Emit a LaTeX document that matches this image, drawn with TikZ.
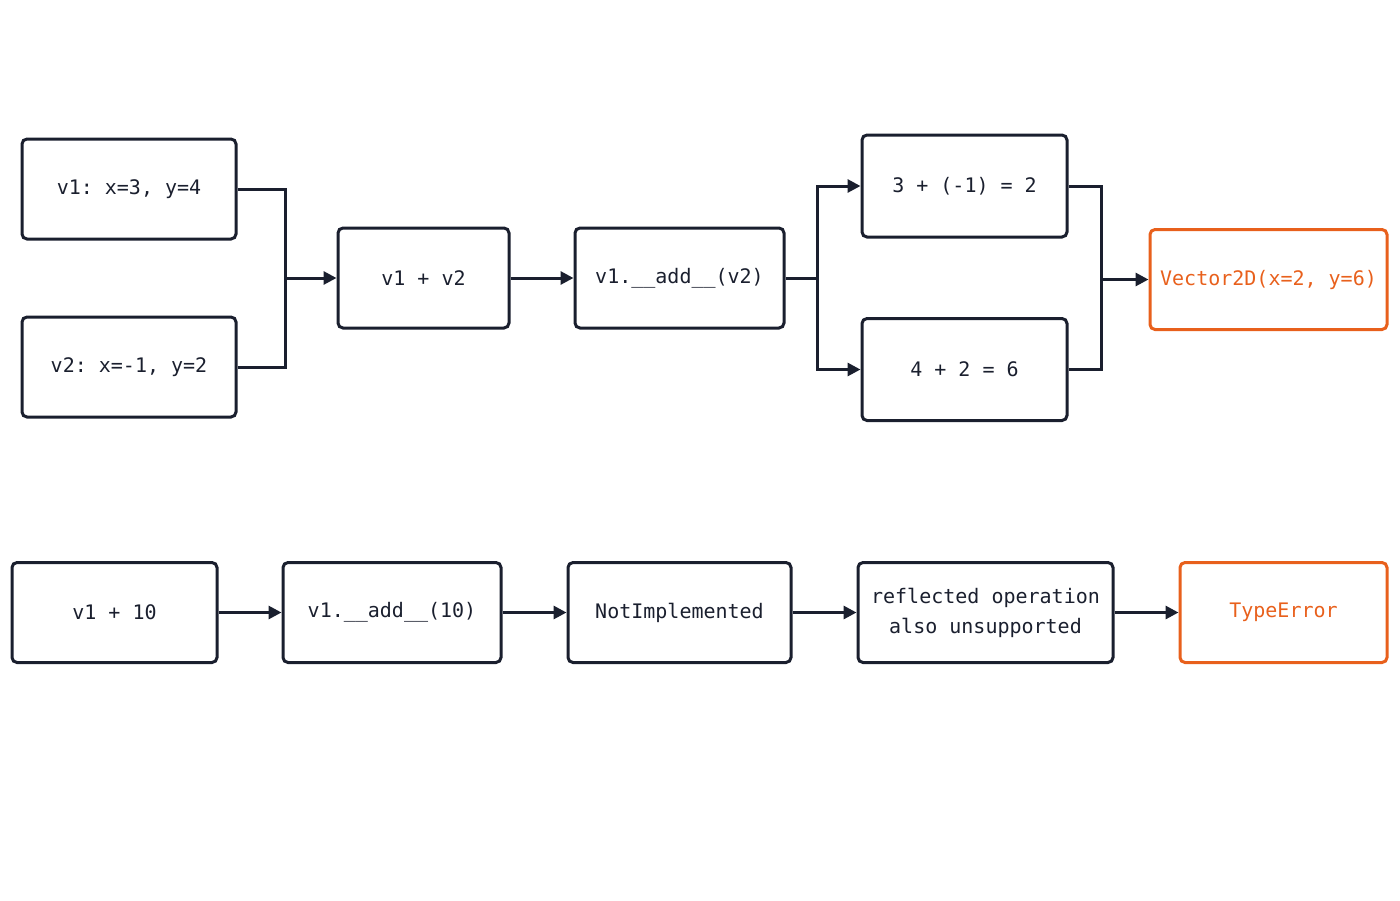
\documentclass[tikz,border=0pt]{standalone}
\usepackage{fontspec}
\setmonofont{DejaVu Sans Mono}
\usetikzlibrary{arrows.meta}
\definecolor{inkcol}{HTML}{1A1F2E}
\definecolor{hotcol}{HTML}{E8601C}
\tikzset{
  box/.style={draw=inkcol,line width=3pt,rounded corners=5pt,minimum height=100pt,
    align=center,text=inkcol,font=\fontsize{20}{30}\selectfont\ttfamily},
  outbox/.style={box,draw=hotcol,text=hotcol},
  flow/.style={draw=inkcol,line width=3pt,-{Triangle[length=13pt,width=13pt]}},
  wire/.style={draw=inkcol,line width=3pt}
}
\begin{document}
\begin{tikzpicture}[x=1pt,y=-1pt]
  \useasboundingbox (0,0) rectangle (1400,900);
%%
  % Nodes: first row
  \node[box,minimum width=214pt] (vone) at (129,189) {v1: x=3, y=4};
  \node[box,minimum width=214pt] (vtwo) at (129,367) {v2: x=-1, y=2};
  \node[box,minimum width=171pt] (sum) at (423.5,278) {v1 + v2};
  \node[box,minimum width=209pt] (add) at (679.5,278) {v1.\_\_add\_\_(v2)};
  \node[box,minimum width=205pt,minimum height=102pt] (xsum) at (964.5,186) {3 + (-1) = 2};
  \node[box,minimum width=205pt,minimum height=102pt] (ysum) at (964.5,369.5) {4 + 2 = 6};
  \node[outbox,minimum width=237pt] (res) at (1268.5,279.5) {Vector2D(x=2, y=6)};
  % Nodes: second row
  \node[box,minimum width=205pt] (ten) at (114.5,612.5) {v1 + 10};
  \node[box,minimum width=218pt] (addten) at (392,612.5) {v1.\_\_add\_\_(10)};
  \node[box,minimum width=223pt] (notimp) at (679.5,612.5) {NotImplemented};
  \node[box,minimum width=255pt] (refl) at (985.5,612.5) {reflected operation\\also unsupported};
  \node[outbox,minimum width=207pt] (err) at (1283.5,612.5) {TypeError};
  % Junctions
  \coordinate (jin) at (285,278);
  \coordinate (jsplit) at (817,278);
  \coordinate (jout) at (1101,279.5);
  % Edges
  \draw[wire] (vone.east) -| (jin);
  \draw[wire] (vtwo.east) -| (jin);
  \draw[flow] (jin) -- (sum.west);
  \draw[flow] (sum) -- (add);
  \draw[wire] (add.east) -- (jsplit);
  \draw[flow] (jsplit) |- (xsum.west);
  \draw[flow] (jsplit) |- (ysum.west);
  \draw[wire] (xsum.east) -| (jout);
  \draw[wire] (ysum.east) -| (jout);
  \draw[flow] (jout) -- (res.west);
  \draw[flow] (ten) -- (addten);
  \draw[flow] (addten) -- (notimp);
  \draw[flow] (notimp) -- (refl);
  \draw[flow] (refl) -- (err);
%
\end{tikzpicture}
\end{document}
